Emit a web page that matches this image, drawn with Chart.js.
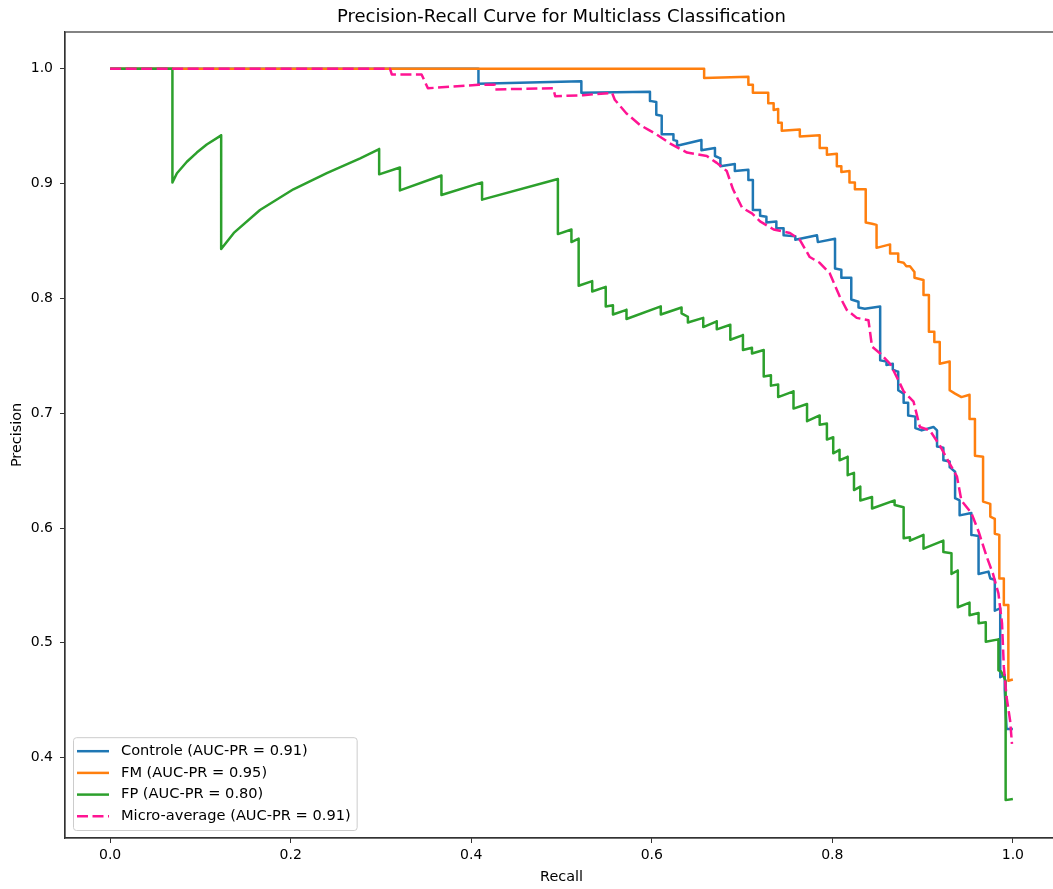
<!DOCTYPE html>
<html>
<head>
<meta charset="utf-8">
<script src="https://cdn.jsdelivr.net/npm/chart.js@4.4.1/dist/chart.umd.min.js"></script>
<style>
  html, body { margin: 0; padding: 0; background: #fff; overflow: hidden; }
  #wrap { position: relative; width: 1063px; height: 889px; }
</style>
</head>
<body>
<div id="wrap"><canvas id="pr"></canvas></div>
<script>
// [recall, precision] pairs
var controlePts = [[0,1],[0.408,1],[0.408,0.987],[0.522,0.989],[0.522,0.979],[0.598,0.980],[0.598,0.972],[0.605,0.971],[0.605,0.960],[0.611,0.959],[0.611,0.943],[0.624,0.943],[0.624,0.938],[0.628,0.937],[0.628,0.933],[0.655,0.938],[0.655,0.929],[0.670,0.931],[0.670,0.924],[0.676,0.922],[0.676,0.915],[0.692,0.917],[0.692,0.911],[0.707,0.912],[0.707,0.903],[0.712,0.903],[0.712,0.877],[0.720,0.877],[0.720,0.872],[0.727,0.871],[0.727,0.866],[0.738,0.867],[0.738,0.861],[0.746,0.861],[0.746,0.855],[0.759,0.854],[0.759,0.851],[0.783,0.855],[0.784,0.849],[0.803,0.852],[0.803,0.826],[0.810,0.825],[0.810,0.818],[0.821,0.818],[0.821,0.799],[0.829,0.797],[0.829,0.792],[0.836,0.791],[0.853,0.793],[0.853,0.746],[0.860,0.745],[0.860,0.742],[0.867,0.743],[0.867,0.738],[0.873,0.736],[0.873,0.720],[0.879,0.717],[0.879,0.709],[0.884,0.709],[0.884,0.698],[0.892,0.697],[0.892,0.687],[0.899,0.685],[0.912,0.688],[0.916,0.685],[0.916,0.671],[0.923,0.670],[0.923,0.659],[0.930,0.658],[0.930,0.653],[0.936,0.649],[0.936,0.626],[0.941,0.624],[0.941,0.611],[0.954,0.613],[0.954,0.594],[0.962,0.593],[0.962,0.560],[0.973,0.562],[0.975,0.556],[0.980,0.555],[0.980,0.528],[0.986,0.530],[0.986,0.470],[0.991,0.472],[0.991,0.459],[0.993,0.425],[1.0,0.425]];

var fmPts = [[0,1],[0.658,1],[0.658,0.992],[0.707,0.993],[0.707,0.986],[0.712,0.986],[0.712,0.979],[0.729,0.979],[0.729,0.970],[0.735,0.970],[0.735,0.964],[0.740,0.965],[0.740,0.953],[0.744,0.953],[0.744,0.946],[0.764,0.947],[0.764,0.941],[0.786,0.942],[0.786,0.931],[0.794,0.931],[0.794,0.925],[0.805,0.926],[0.805,0.915],[0.810,0.915],[0.810,0.910],[0.819,0.911],[0.819,0.901],[0.825,0.901],[0.825,0.895],[0.837,0.895],[0.837,0.866],[0.844,0.865],[0.849,0.864],[0.849,0.844],[0.864,0.847],[0.864,0.839],[0.873,0.839],[0.873,0.832],[0.879,0.831],[0.882,0.828],[0.886,0.828],[0.891,0.823],[0.891,0.818],[0.901,0.816],[0.901,0.803],[0.907,0.803],[0.907,0.771],[0.913,0.771],[0.913,0.762],[0.919,0.762],[0.919,0.743],[0.930,0.745],[0.930,0.720],[0.936,0.717],[0.943,0.714],[0.952,0.716],[0.952,0.695],[0.958,0.695],[0.958,0.663],[0.967,0.662],[0.967,0.623],[0.975,0.621],[0.975,0.610],[0.980,0.608],[0.980,0.595],[0.985,0.594],[0.985,0.556],[0.990,0.556],[0.990,0.533],[0.995,0.533],[0.995,0.467],[1.0,0.468]];

var fpPts = [[0,1],[0.069,1],[0.069,0.901],[0.074,0.909],[0.085,0.919],[0.096,0.927],[0.107,0.934],[0.123,0.942],[0.123,0.843],[0.137,0.857],[0.166,0.877],[0.203,0.895],[0.240,0.909],[0.277,0.922],[0.298,0.930],[0.298,0.908],[0.321,0.914],[0.321,0.894],[0.367,0.907],[0.367,0.890],[0.412,0.901],[0.412,0.886],[0.496,0.904],[0.496,0.856],[0.511,0.860],[0.511,0.849],[0.519,0.852],[0.519,0.811],[0.534,0.815],[0.534,0.806],[0.549,0.810],[0.549,0.793],[0.557,0.794],[0.557,0.786],[0.572,0.790],[0.572,0.782],[0.610,0.793],[0.610,0.786],[0.633,0.792],[0.633,0.787],[0.640,0.784],[0.640,0.779],[0.657,0.783],[0.657,0.775],[0.672,0.780],[0.672,0.773],[0.687,0.777],[0.687,0.764],[0.701,0.768],[0.701,0.755],[0.711,0.757],[0.711,0.752],[0.724,0.755],[0.724,0.732],[0.732,0.733],[0.732,0.724],[0.740,0.725],[0.740,0.714],[0.757,0.719],[0.757,0.704],[0.772,0.708],[0.772,0.693],[0.786,0.698],[0.786,0.690],[0.794,0.691],[0.794,0.677],[0.801,0.679],[0.801,0.665],[0.808,0.668],[0.808,0.659],[0.817,0.662],[0.817,0.646],[0.824,0.648],[0.824,0.633],[0.831,0.636],[0.831,0.624],[0.844,0.627],[0.844,0.617],[0.869,0.624],[0.869,0.620],[0.879,0.618],[0.879,0.591],[0.886,0.592],[0.886,0.589],[0.901,0.594],[0.901,0.582],[0.923,0.589],[0.923,0.579],[0.932,0.578],[0.932,0.560],[0.939,0.563],[0.939,0.531],[0.952,0.535],[0.952,0.524],[0.962,0.526],[0.962,0.517],[0.970,0.518],[0.970,0.501],[0.984,0.503],[0.984,0.476],[0.987,0.475],[0.992,0.467],[0.992,0.363],[1.0,0.364]];

var microPts = [[0,1],[0.310,1],[0.312,0.995],[0.345,0.995],[0.352,0.983],[0.408,0.986],[0.426,0.986],[0.426,0.982],[0.491,0.983],[0.493,0.976],[0.524,0.977],[0.556,0.979],[0.559,0.973],[0.572,0.961],[0.587,0.951],[0.596,0.947],[0.605,0.943],[0.620,0.935],[0.639,0.927],[0.661,0.924],[0.672,0.918],[0.683,0.911],[0.690,0.895],[0.700,0.879],[0.711,0.874],[0.720,0.867],[0.735,0.860],[0.753,0.857],[0.764,0.851],[0.775,0.836],[0.786,0.831],[0.797,0.822],[0.808,0.802],[0.816,0.790],[0.827,0.783],[0.840,0.781],[0.844,0.758],[0.853,0.752],[0.864,0.743],[0.873,0.729],[0.879,0.719],[0.890,0.710],[0.897,0.688],[0.908,0.685],[0.919,0.672],[0.930,0.656],[0.938,0.645],[0.943,0.624],[0.954,0.613],[0.962,0.597],[0.971,0.575],[0.978,0.560],[0.984,0.543],[0.988,0.517],[0.990,0.479],[0.993,0.453],[0.997,0.432],[0.999,0.412]];

var seriesLabels = ["Controle (AUC-PR = 0.91)", "FM (AUC-PR = 0.95)", "FP (AUC-PR = 0.80)", "Micro-average (AUC-PR = 0.91)"];
var xTicks = [0, 0.2, 0.4, 0.6, 0.8, 1.0];
var yTicks = [0.4, 0.5, 0.6, 0.7, 0.8, 0.9, 1.0];

var FONT = "'DejaVu Sans', sans-serif";
var AXIS = "#333";

function pts(arr) { return arr.map(function (p) { return { x: p[0], y: p[1] }; }); }

function ds(label, arr, color, order, dash) {
  return {
    label: label, data: pts(arr), borderColor: color, backgroundColor: color,
    borderWidth: 2.5, pointRadius: 0, tension: 0, fill: false,
    borderDash: dash || [], borderJoinStyle: "round", borderCapStyle: "butt",
    order: order
  };
}

// top + right spines
var frame = {
  id: "frame",
  afterDatasetsDraw: function (chart) {
    var a = chart.chartArea, ctx = chart.ctx;
    ctx.save();
    ctx.strokeStyle = AXIS;
    ctx.lineWidth = 1.2;
    ctx.strokeRect(a.left, a.top, a.right - a.left, a.bottom - a.top);
    ctx.restore();
  }
};

// matplotlib-style legend inside the lower-left corner
var insideLegend = {
  id: "insideLegend",
  afterDraw: function (chart) {
    var ctx = chart.ctx, a = chart.chartArea;
    var sets = chart.data.datasets;
    ctx.save();
    ctx.font = "14.6px " + FONT;
    var maxW = 0;
    sets.forEach(function (d) { maxW = Math.max(maxW, ctx.measureText(d.label).width); });
    var rowH = 21.7;
    var w = 48 + maxW + 6, h = rowH * sets.length + 6;
    var x0 = a.left + 8, y0 = a.bottom - 8 - h;
    ctx.beginPath();
    if (ctx.roundRect) ctx.roundRect(x0 + 0.5, y0 + 0.5, w, h, 3); else ctx.rect(x0 + 0.5, y0 + 0.5, w, h);
    ctx.fillStyle = "rgba(255,255,255,0.8)";
    ctx.fill();
    ctx.strokeStyle = "#cccccc";
    ctx.lineWidth = 1;
    ctx.stroke();
    sets.forEach(function (d, i) {
      var cy = y0 + 14 + i * rowH;
      ctx.beginPath();
      ctx.setLineDash(d.borderDash || []);
      ctx.strokeStyle = d.borderColor;
      ctx.lineWidth = d.borderWidth;
      ctx.moveTo(x0 + 4, cy);
      ctx.lineTo(x0 + 36, cy);
      ctx.stroke();
      ctx.setLineDash([]);
      ctx.fillStyle = "#000";
      ctx.textBaseline = "middle";
      ctx.textAlign = "left";
      ctx.fillText(d.label, x0 + 48, cy);
    });
    ctx.restore();
  }
};

new Chart(document.getElementById("pr"), {
  type: "line",
  data: {
    datasets: [
      ds(seriesLabels[0], controlePts, "#1f77b4", 3),
      ds(seriesLabels[1], fmPts, "#ff7f0e", 2),
      ds(seriesLabels[2], fpPts, "#2ca02c", 1),
      ds(seriesLabels[3], microPts, "#ff1493", 0, [11, 4.5])
    ]
  },
  plugins: [frame, insideLegend],
  options: {
    responsive: true, maintainAspectRatio: false, animation: false, devicePixelRatio: 1,
    layout: { padding: { left: 0, right: 5, top: 0, bottom: 0 } },
    plugins: {
      legend: { display: false },
      tooltip: { enabled: false },
      title: {
        display: true, fullSize: false,
        text: "Precision-Recall Curve for Multiclass Classification",
        color: "#000", font: { family: FONT, size: 18, weight: "normal" },
        padding: { top: 7, bottom: 3.4 }
      }
    },
    scales: {
      x: {
        type: "linear", min: -0.05, max: 1.05,
        afterFit: function (s) { s.height = 51; },
        afterBuildTicks: function (s) { s.ticks = xTicks.map(function (v) { return { value: v }; }); },
        grid: { display: true, drawOnChartArea: false, drawTicks: true, tickLength: 5, tickColor: AXIS, tickWidth: 1 },
        border: { display: true, color: AXIS, width: 1.2 },
        ticks: { color: "#000", font: { family: FONT, size: 14 }, padding: 4, maxRotation: 0,
                 callback: function (v) { return v.toFixed(1); } },
        title: { display: true, text: "Recall", color: "#000", font: { family: FONT, size: 14.4 }, padding: { top: 0, bottom: 3 } }
      },
      y: {
        type: "linear", min: 0.33, max: 1.032,
        afterFit: function (s) { s.width = 65; },
        afterBuildTicks: function (s) { s.ticks = yTicks.map(function (v) { return { value: v }; }); },
        grid: { display: true, drawOnChartArea: false, drawTicks: true, tickLength: 5, tickColor: AXIS, tickWidth: 1 },
        border: { display: true, color: AXIS, width: 1.2 },
        ticks: { color: "#000", font: { family: FONT, size: 14 }, padding: 7,
                 callback: function (v) { return v.toFixed(1); } },
        title: { display: true, text: "Precision", color: "#000", font: { family: FONT, size: 14.4 }, padding: { top: 9, bottom: 0 } }
      }
    }
  }
});
</script>
</body>
</html>
